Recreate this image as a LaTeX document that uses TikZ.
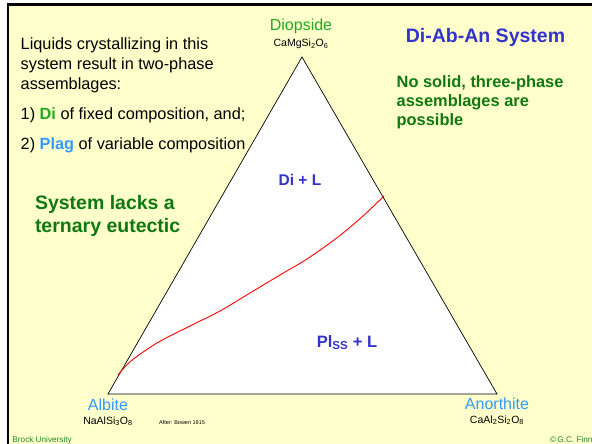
\documentclass[tikz,border=0pt]{standalone}
\usepackage{fontspec}
\setmainfont{Liberation Sans}
\definecolor{bgyellow}{HTML}{FFFFCC}
\definecolor{brightgreen}{HTML}{22AA22}
\definecolor{darkgreen}{HTML}{117711}
\definecolor{footgreen}{HTML}{228822}
\definecolor{lightblue}{HTML}{3399FF}
\definecolor{titleblue}{HTML}{3333CC}
\newcommand{\fs}[2]{\fontsize{#1}{#2}\selectfont}
\begin{document}
\begin{tikzpicture}[x=1pt,y=-1pt,
  txt/.style={inner sep=0pt,outer sep=0pt},
  edge/.style={draw=black,line width=0.7pt},
  liquidus/.style={draw=red,line width=0.9pt},
  endmember/.style={txt,anchor=base,text=lightblue,font=\fs{16}{19}},
  formula/.style={txt,anchor=base,text=black,font=\fs{10.5}{12}},
  phase/.style={txt,anchor=base,text=titleblue,font=\bfseries\fs{15.5}{18}},
  footer/.style={txt,text=footgreen,font=\fs{8.2}{10}}]
\useasboundingbox (0,0) rectangle (592,444);
% background and frame
\fill[bgyellow] (8,4) rectangle (592,444);
\draw[line width=2.6pt] (8,444) -- (8,4.3) -- (592,4.3);
% triangle
\coordinate (Di) at (302,57);
\coordinate (Ab) at (108,394);
\coordinate (An) at (497,394);
\filldraw[edge,fill=white] (Di) -- (Ab) -- (An) -- cycle;
% cotectic curve
\coordinate (c0) at (118,375);
\coordinate (c1) at (384,196);
\draw[liquidus] plot[smooth,tension=0.55] coordinates {(c0) (131,361) (157,343) (188,327) (220,311) (250,293) (280,275) (307,259) (338,237) (363,216) (c1)};
% apex labels
\node[txt,anchor=base,text=brightgreen,font=\fs{16}{19}] (diname) at (301,31) {Diopside};
\node[formula] (diform) at (301,46.5) {CaMgSi\textsubscript{2}O\textsubscript{6}};
\node[endmember] (abname) at (108,410) {Albite};
\node[formula] (abform) at (108,424) {NaAlSi\textsubscript{3}O\textsubscript{8}};
\node[endmember] (anname) at (497,409) {Anorthite};
\node[formula] (anform) at (497,423.3) {CaAl\textsubscript{2}Si\textsubscript{2}O\textsubscript{8}};
\node[txt,anchor=base,font=\fs{5.5}{7}] (after) at (182,424.3) {After: Bowen 1915};
% phase fields
\node[phase] (dil) at (300,185) {Di + L};
\node[phase,font=\bfseries\fs{16.5}{19}] (pll) at (347,347.3) {Pl\textsubscript{SS} + L};
% title and notes
\node[txt,anchor=base,text=titleblue,font=\bfseries\fs{19.5}{23}] (title) at (485.5,42.7) {Di-Ab-An System};
\node[txt,anchor=base west,align=left,text=darkgreen,font=\bfseries\fs{16.4}{19.3}] (nosolid) at (396.7,125.9) {No solid, three-phase\\assemblages are\\possible};
\node[txt,anchor=base west,align=left,font=\fs{16.3}{19.6}] (liquids) at (20.7,89.2) {Liquids crystallizing in this\\system result in two-phase\\assemblages:};
\node[txt,anchor=base west,font=\fs{16.3}{19.6}] (item1) at (20.7,119.3) {1) {\bfseries\color{brightgreen}Di} of fixed composition, and;};
\node[txt,anchor=base west,font=\fs{16.3}{19.6}] (item2) at (20.7,149.3) {2) {\bfseries\color{lightblue}Plag} of variable composition};
\node[txt,anchor=base west,align=left,text=darkgreen,font=\bfseries\fs{19.5}{23.4}] (lacks) at (35,232.7) {System lacks a\\ternary eutectic};
% footer
\node[footer,anchor=base west] (brock) at (12.5,442) {Brock University};
\node[footer,anchor=base east] (finn) at (592.5,442) {\textcopyright\,G.C. Finn};
\end{tikzpicture}
\end{document}
